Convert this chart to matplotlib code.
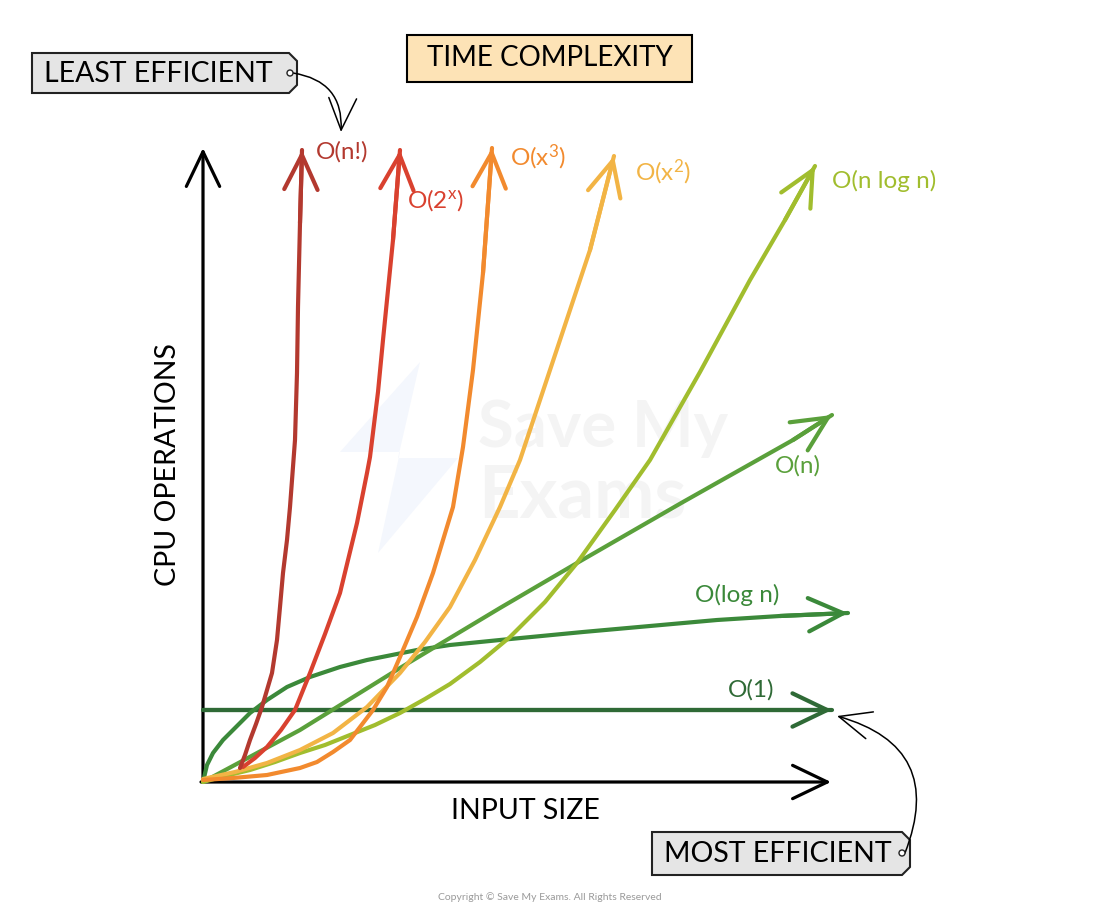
import matplotlib
matplotlib.use('Agg')
import matplotlib.pyplot as plt
import matplotlib.transforms as mtransforms
from matplotlib.patches import Polygon, Rectangle, Circle

plt.rcParams['font.family'] = ['Lato', 'DejaVu Sans']
plt.rcParams['mathtext.fontset'] = 'custom'
plt.rcParams['mathtext.rm'] = 'Lato'
plt.rcParams['mathtext.it'] = 'Lato'

# curve readings: input size (x) vs cpu operations (y), origin at the axes corner
o1_x = [0, 629]
o1_y = [72, 72]

logn_x = [0, 4, 10, 20, 30, 47, 64, 84, 107, 137, 164, 214, 247, 297, 380, 447, 514, 577, 645]
logn_y = [0, 17, 29, 42, 52, 69, 82, 95, 105, 115, 122, 132, 137, 142, 150, 156, 162, 166, 169]

n_x = [0, 97, 197, 297, 374, 480, 590, 629]
n_y = [0, 52, 114, 174, 219, 280, 342, 367]

nlogn_x = [0, 22, 47, 72, 97, 122, 147, 172, 197, 222, 247, 277, 307, 342, 374, 412, 447, 497, 547, 582, 612]
nlogn_y = [0, 6, 12, 20, 29, 37, 47, 57, 69, 83, 98, 120, 145, 180, 219, 272, 322, 410, 502, 562, 616]

sq_x = [0, 32, 64, 97, 130, 164, 197, 222, 247, 272, 297, 317, 337, 357, 387, 411]
sq_y = [3, 10, 19, 32, 49, 75, 109, 140, 175, 222, 275, 322, 382, 442, 532, 626]

cube_x = [0, 30, 64, 97, 114, 130, 147, 157, 170, 184, 197, 214, 230, 250, 260, 270, 280, 289]
cube_y = [2, 4, 7, 14, 20, 30, 42, 55, 72, 95, 125, 165, 209, 275, 335, 412, 509, 634]

exp_x = [40, 52, 64, 78, 92, 107, 122, 137, 154, 164, 167, 175, 180, 190, 197]
exp_y = [15, 24, 35, 52, 72, 109, 148, 189, 259, 309, 325, 390, 442, 542, 632]

fact_x = [37, 42, 47, 53, 59, 69, 74, 77, 80, 84, 87, 92, 94, 95, 97, 99]
fact_y = [14, 27, 42, 58, 75, 109, 142, 175, 209, 242, 275, 342, 409, 475, 559, 632]

curves = [
	(o1_x, o1_y, '#2f6a36', 'O(1)', (728, 690)),
	(logn_x, logn_y, '#3b893a', 'O(log n)', (695, 595)),
	(n_x, n_y, '#5aa03b', 'O(n)', (775, 466)),
	(nlogn_x, nlogn_y, '#a1bd2e', 'O(n log n)', (832, 181)),
	(sq_x, sq_y, '#f2b445', r'O(x$^{\mathrm{2}}$)', (635, 172)),
	(cube_x, cube_y, '#f28a2e', r'O(x$^{\mathrm{3}}$)', (510, 157)),
	(exp_x, exp_y, '#d9412f', r'O(2$^{\mathrm{x}}$)', (407, 200)),
	(fact_x, fact_y, '#b3392f', 'O(n!)', (316, 152)),
]

fig = plt.figure(figsize=(11, 9.16), dpi=100)
# pixel transform for the decorations (origin top left)
px = mtransforms.Affine2D().scale(1/1100., -1/916.).translate(0, 1) + fig.transFigure

ax = fig.add_axes([0, 0, 1, 1])
ax.set_xlim(-203, 897)
ax.set_ylim(-134, 782)
ax.axis('off')

# faint watermark
ax.add_patch(Polygon([(420, 362), (340, 452), (400, 452), (378, 553), (458, 458), (398, 458)],
	closed=True, transform=px, facecolor='#f4f7fd', edgecolor='none', zorder=0))
ax.text(478, 428, 'Save My', transform=px, fontsize=47, fontweight='bold', color='#f4f4f4',
	va='center', ha='left', zorder=0)
ax.text(478, 497, 'Exams', transform=px, fontsize=52, fontweight='bold', color='#f4f4f4',
	va='center', ha='left', zorder=0)

# axes arrows
head = '->,head_length=1.25,head_width=0.6'
ax.annotate('', xy=(0, 634), xytext=(0, 0),
	arrowprops=dict(arrowstyle=head, lw=2.3, color='black', shrinkA=0, shrinkB=0, mutation_scale=20))
ax.annotate('', xy=(628, 0), xytext=(-2, 0),
	arrowprops=dict(arrowstyle=head, lw=2.3, color='black', shrinkA=0, shrinkB=0, mutation_scale=20))

for xs, ys, col, lab, pos in curves:
	ax.plot(xs, ys, color=col, lw=3.0, solid_capstyle='round', solid_joinstyle='round', zorder=3)
	ax.annotate('', xy=(xs[-1], ys[-1]), xytext=(xs[-2], ys[-2]),
		arrowprops=dict(arrowstyle=head, lw=3.0, color=col, shrinkA=0, shrinkB=0,
			mutation_scale=20, capstyle='round', joinstyle='round'), zorder=3)
	ax.text(pos[0], pos[1], lab, transform=px, color=col, fontsize=17.5, ha='left', va='center')

# axis labels
ax.text(168, 465, 'CPU OPERATIONS', transform=px, rotation=90, fontsize=20.5, ha='center', va='center')
ax.text(525, 811, 'INPUT SIZE', transform=px, fontsize=20.5, ha='center', va='center')

# title box
ax.add_patch(Rectangle((407, 35), 285, 47, transform=px, facecolor='#fde3b6', edgecolor='black', lw=1.5))
ax.text(549.5, 58, 'TIME COMPLEXITY', transform=px, fontsize=20, ha='center', va='center')


def tag(x0, y0, x1, y1, text, hole):
	c = 8
	verts = [(x0, y0), (x1 - c, y0), (x1, y0 + c), (x1, y1 - c), (x1 - c, y1), (x0, y1)]
	ax.add_patch(Polygon(verts, closed=True, transform=px, facecolor='#e5e5e5', edgecolor='#222222', lw=1.5))
	ax.text(x0 + 12, (y0 + y1) / 2. + 1, text, transform=px, fontsize=20.5, ha='left', va='center')
	ax.add_patch(Circle(hole, 3, transform=px, facecolor='white', edgecolor='#222222', lw=1.0, zorder=5))


tag(32, 53, 297, 93, 'LEAST EFFICIENT', (290, 73))
tag(652, 832, 910, 875, 'MOST EFFICIENT', (902, 853))

thin = '->,head_length=1.15,head_width=0.5'
ax.annotate('', xy=(341, 132), xytext=(293, 73), xycoords=px, textcoords=px,
	arrowprops=dict(arrowstyle=thin, lw=1.1, color='black', shrinkA=0, shrinkB=0,
		mutation_scale=20, connectionstyle='arc3,rad=-0.45'))
ax.annotate('', xy=(837, 716), xytext=(905, 853), xycoords=px, textcoords=px,
	arrowprops=dict(arrowstyle=thin, lw=1.1, color='black', shrinkA=0, shrinkB=0,
		mutation_scale=20, connectionstyle='arc3,rad=0.55'))

ax.text(550, 897, 'Copyright \u00a9 Save My Exams. All Rights Reserved', transform=px,
	fontsize=7.5, color='#9a9a9a', ha='center', va='center')

fig.savefig('out.png', dpi=100, facecolor='white')
